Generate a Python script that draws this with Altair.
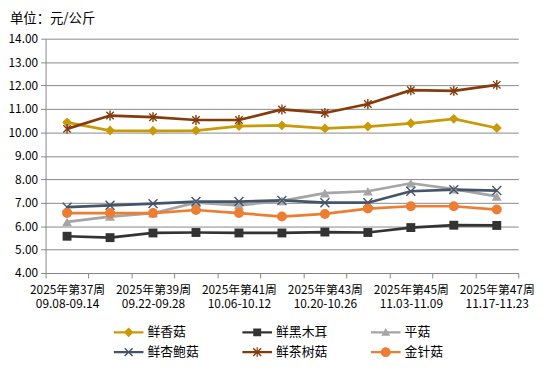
import altair as alt
import pandas as pd

weeks = [37, 38, 39, 40, 41, 42, 43, 44, 45, 46, 47]
dates = ["09.08-09.14", "09.15-09.21", "09.22-09.28", "09.29-10.05", "10.06-10.12",
         "10.13-10.19", "10.20-10.26", "10.27-11.02", "11.03-11.09", "11.10-11.16", "11.17-11.23"]

names = ["鲜香菇", "鲜黑木耳", "平菇", "鲜杏鲍菇", "鲜茶树菇", "金针菇"]
xianggu = [10.43, 10.08, 10.07, 10.08, 10.27, 10.30, 10.17, 10.25, 10.39, 10.58, 10.19]
heimuer = [5.57, 5.51, 5.71, 5.73, 5.71, 5.71, 5.75, 5.73, 5.94, 6.04, 6.03]
pinggu = [6.18, 6.41, 6.55, 7.00, 6.89, 7.08, 7.41, 7.49, 7.83, 7.58, 7.27]
xingbaogu = [6.81, 6.89, 6.96, 7.05, 7.05, 7.10, 7.00, 7.00, 7.49, 7.56, 7.52]
chashugu = [10.15, 10.72, 10.65, 10.53, 10.53, 10.98, 10.83, 11.21, 11.80, 11.77, 12.03]
jinzhengu = [6.56, 6.56, 6.56, 6.69, 6.56, 6.41, 6.52, 6.75, 6.85, 6.85, 6.71]
series = [xianggu, heimuer, pinggu, xingbaogu, chashugu, jinzhengu]

# legend reading order (filled column by column, 3 columns x 2 rows)
legend_order = ["鲜香菇", "鲜杏鲍菇", "鲜黑木耳", "鲜茶树菇", "平菇", "金针菇"]

colors = ["#C99A06", "#333333", "#A5A5A5", "#44546A", "#843C0C", "#ED7D31"]

# marker shapes in the plot (filled paths)
X_PATH = "M-0.8,-1L1,0.8L0.8,1L-1,-0.8ZM-0.8,1L-1,0.8L0.8,-1L1,-0.8Z"
STAR_PATH = ("M-0.14,-1H0.14V1H-0.14Z"
             "M-0.65,-0.85L0.85,0.65L0.65,0.85L-0.85,-0.65Z"
             "M-0.65,0.85L-0.85,0.65L0.65,-0.85L0.85,-0.65Z")
shapes = ["diamond", "M-0.9,-0.9H0.9V0.9H-0.9Z", "triangle-up", X_PATH, STAR_PATH, "circle"]

# legend symbols: line segment + marker
BAR = "M-1.5,-0.12H1.5V0.12H-1.5Z"
legend_paths = [
    BAR + "M0,-0.5L0.5,0L0,0.5L-0.5,0Z",
    BAR + "M-0.4,-0.4H0.4V0.4H-0.4Z",
    BAR + "M0,-0.45L0.45,0.35H-0.45Z",
    BAR + "M-0.35,-0.45L0.45,0.35L0.35,0.45L-0.45,-0.35ZM-0.35,0.45L-0.45,0.35L0.35,-0.45L0.45,-0.35Z",
    BAR + "M-0.06,-0.5H0.06V0.5H-0.06Z"
          "M-0.35,-0.45L0.45,0.35L0.35,0.45L-0.45,-0.35ZM-0.35,0.45L-0.45,0.35L0.35,-0.45L0.45,-0.35Z",
    BAR + "M0.5,0A0.5,0.5,0,1,1,-0.5,0A0.5,0.5,0,1,1,0.5,0Z",
]

mkeys = [n + "_m" for n in names]

rows = []
for n, k, vals in zip(names, mkeys, series):
    for w, d, v in zip(weeks, dates, vals):
        rows.append({"品种": k, "周": f"2025年第{w}周|{d}", "价格": v})
df = pd.DataFrame(rows)
cats = [f"2025年第{w}周|{d}" for w, d in zip(weeks, dates)]

FONT = "Noto Sans CJK SC"

x = alt.X("周:O", sort=cats, title=None,
          scale=alt.Scale(type="band", paddingInner=0, paddingOuter=0),
          axis=alt.Axis(labelAngle=0, tickBand="extent", labelOverlap=False,
                        labelExpr="parseInt(substring(datum.value, 7, 9)) % 2 == 1 ? split(datum.value, '|') : ''",
                        labelLineHeight=14, labelPadding=7, tickSize=5,
                        domainColor="#888888", tickColor="#888888",
                        labelFont=FONT, labelFontSize=12, labelColor="#000000", grid=False))
y = alt.Y("价格:Q", title=None,
          scale=alt.Scale(domain=[4, 14], nice=False, zero=False),
          axis=alt.Axis(values=[4, 5, 6, 7, 8, 9, 10, 11, 12, 13, 14], format=".2f",
                        tickSize=5, domainColor="#888888", tickColor="#888888",
                        gridColor="#888888", gridWidth=1, labelPadding=3,
                        labelFont=FONT, labelFontSize=12, labelColor="#000000"))

color_scale = alt.Scale(domain=names + mkeys, range=colors + colors)
shape_scale = alt.Scale(domain=names + mkeys, range=legend_paths + shapes)

leg = dict(title=None, orient="none", legendX=74, legendY=287, values=legend_order,
           columns=3, columnPadding=43, rowPadding=3, padding=0,
           symbolSize=400, labelOffset=9, symbolOpacity=1, symbolStrokeWidth=0,
           labelFont=FONT, labelFontSize=13, labelColor="#000000")

lines = alt.Chart(df).mark_line(strokeWidth=2.75).encode(
    x=x, y=y,
    color=alt.Color("品种:N", scale=color_scale, legend=alt.Legend(**leg)),
)

points = alt.Chart(df).mark_point(filled=True, size=100, opacity=1).encode(
    x=x, y=y,
    color=alt.Color("品种:N", scale=color_scale, legend=alt.Legend(**leg)),
    shape=alt.Shape("品种:N", scale=shape_scale, legend=alt.Legend(**leg)),
)

chart = alt.layer(lines, points).properties(
    width=478, height=237,
    autosize=alt.AutoSizeParams(type="none"),
    padding={"left": 38, "top": 29, "right": 24, "bottom": 92},
    title=alt.TitleParams("单位：元/公斤", anchor="start", frame="group", dx=-36, offset=7,
                          font=FONT, fontSize=13.5, fontWeight="normal", color="#000000"),
    background="white",
).configure_view(stroke=None)

chart.save("out.html", embed_options={"renderer": "svg", "actions": False})
